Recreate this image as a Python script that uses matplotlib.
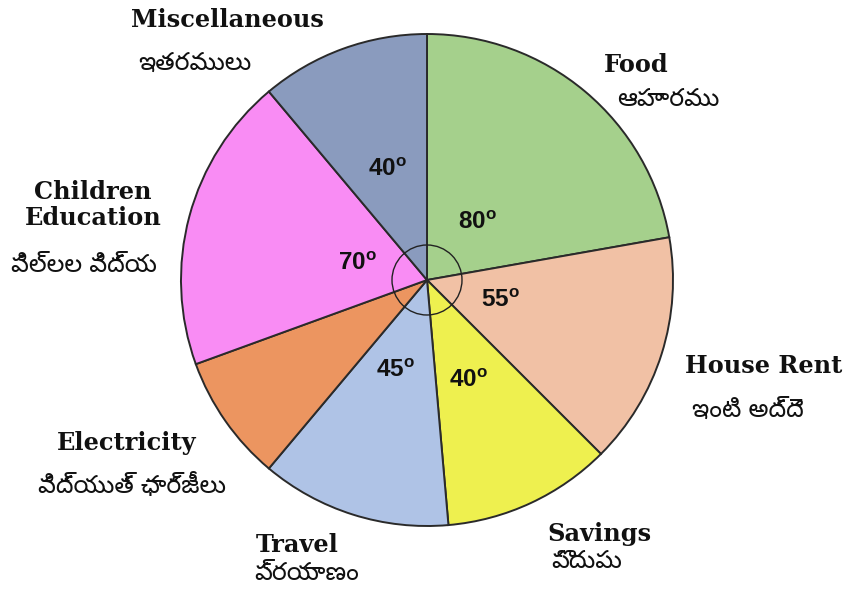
import matplotlib
matplotlib.use("Agg")
import matplotlib.pyplot as plt
from matplotlib.patches import Circle

plt.rcParams["mathtext.fontset"] = "custom"
plt.rcParams["mathtext.rm"] = "Liberation Sans:bold"
plt.rcParams["mathtext.bf"] = "Liberation Sans:bold"

categories = ["Food", "House Rent", "Savings", "Travel", "Electricity",
              "Children Education", "Miscellaneous"]
telugu = ["ఆహారము", "ఇంటి అద్దె", "పొదుపు", "ప్రయాణం", "విద్యుత్ ఛార్జీలు",
          "పిల్లల విద్య", "ఇతరములు"]
angles = [80, 55, 40, 45, 30, 70, 40]
shown = [True, True, True, True, False, True, True]
colors = ["#a5d08c", "#f1c1a5", "#eef04f", "#afc3e6", "#ec9560",
          "#f98cf4", "#8a9bbe"]

W, H = 850, 592
fig = plt.figure(figsize=(W / 100, H / 100), dpi=100)
ax = fig.add_axes([0, 0, 1, 1])

cx, cy, R = 427, H - 280, 246

def py(y):
    return H - y

ax.pie(angles, colors=colors, startangle=90, counterclock=False,
       center=(cx, cy), radius=R, frame=True,
       wedgeprops=dict(edgecolor="#2a2a2a", linewidth=1.4))
ax.set_xlim(0, W)
ax.set_ylim(0, H)
ax.set_aspect("equal")
ax.axis("off")
ax.add_patch(Circle((cx, cy), 35, fill=False, edgecolor="#222222", lw=1.0, zorder=5))

# degree labels (pixel centres)
deg_pos = [(477, 222), (500, 300), (468, 380), (395, 370), None, (357, 263), (387, 169)]
for a, s, p in zip(angles, shown, deg_pos):
    if s and p is not None:
        ax.text(p[0], py(p[1]), r"$\mathbf{%d^{o}}$" % a, fontsize=17.5,
                ha="center", va="center", color="#111111", zorder=6)

serif = dict(family="DejaVu Serif", fontweight="bold", fontsize=17.3, color="#111111")
tel = dict(family=["Noto Sans Telugu", "DejaVu Sans"], fontsize=18, color="#111111")

eng_pos = {
    "Food": (636, 65),
    "House Rent": (764, 366),
    "Savings": (599, 534),
    "Travel": (297, 545),
    "Electricity": (127, 443),
    "Children Education": (93, 205),
    "Miscellaneous": (227, 20),
}
tel_pos = [(668, 100), (748, 410), (587, 561), (307, 573), (132, 487), (84, 266), (195, 63)]

for c, t, tp in zip(categories, telugu, tel_pos):
    ex, ey = eng_pos[c]
    label = "Children\nEducation" if c == "Children Education" else c
    ax.text(ex, py(ey), label, ha="center", va="center", linespacing=1.1, **serif)
    ax.text(tp[0], py(tp[1]), t, ha="center", va="center", **tel)

fig.savefig("out.png", dpi=100, facecolor="white")
